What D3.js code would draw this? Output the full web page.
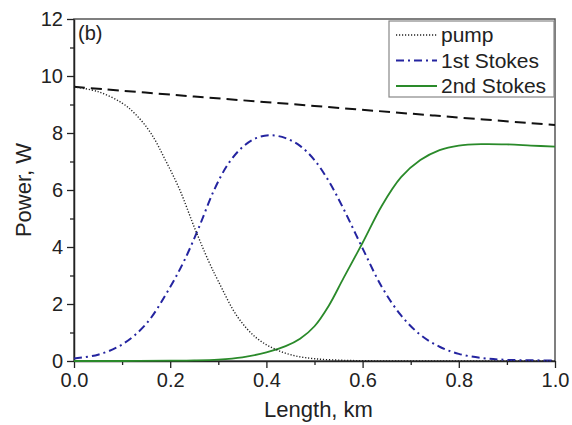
<!DOCTYPE html>
<html>
<head>
<meta charset="utf-8">
<script src="https://cdn.jsdelivr.net/npm/d3@7"></script>
<style>
  body { margin: 0; background: #fff; }
  text { font-family: Arial, "Liberation Sans", sans-serif; fill: #222; }
</style>
</head>
<body>
<div id="chart"></div>
<script>
const width = 572, height = 425;
const margin = {top: 19, right: 17, bottom: 64, left: 74};

// data
const pumpX = [0, 0.05, 0.1, 0.13, 0.16, 0.19, 0.22, 0.25, 0.28, 0.3, 0.34, 0.38, 0.42, 0.46, 0.5, 0.55, 0.6, 0.7, 1.0];
const pumpY = [9.62, 9.45, 9.05, 8.62, 7.99, 7.05, 6.0, 4.7, 3.5, 2.8, 1.55, 0.8, 0.4, 0.18, 0.08, 0.03, 0.01, 0, 0];

const stokes1X = [0, 0.05, 0.1, 0.15, 0.2, 0.23, 0.26, 0.29, 0.32, 0.35, 0.38, 0.41, 0.44, 0.47, 0.5, 0.53, 0.56, 0.6, 0.64, 0.68, 0.72, 0.76, 0.8, 0.85, 0.9, 1.0];
const stokes1Y = [0.09, 0.22, 0.58, 1.3, 2.6, 3.55, 4.7, 5.95, 6.9, 7.5, 7.83, 7.92, 7.82, 7.55, 7.05, 6.3, 5.35, 3.95, 2.6, 1.6, 0.92, 0.5, 0.25, 0.1, 0.04, 0.02];

const stokes2X = [0, 0.1, 0.2, 0.25, 0.3, 0.35, 0.4, 0.44, 0.47, 0.5, 0.53, 0.56, 0.6, 0.64, 0.68, 0.72, 0.76, 0.8, 0.85, 0.9, 0.95, 1.0];
const stokes2Y = [0, 0, 0.01, 0.02, 0.05, 0.13, 0.3, 0.52, 0.78, 1.22, 1.95, 2.9, 4.15, 5.45, 6.45, 7.05, 7.4, 7.56, 7.61, 7.6, 7.56, 7.52];

const lossX = [0, 0.25, 0.5, 0.75, 1.0];
const lossY = [9.62, 9.28, 8.95, 8.61, 8.28];

const xTicks = [0, 0.2, 0.4, 0.6, 0.8, 1.0];
const yTicks = [0, 2, 4, 6, 8, 10, 12];
const legendNames = ["pump", "1st Stokes", "2nd Stokes"];

const svg = d3.select("#chart")
  .append("svg")
  .attr("width", width)
  .attr("height", height);

const x = d3.scaleLinear().domain([0, 1]).range([margin.left, width - margin.right]);
const y = d3.scaleLinear().domain([0, 12]).range([height - margin.bottom, margin.top]);

// frame (top / right)
svg.append("rect")
  .attr("x", x(0)).attr("y", y(12))
  .attr("width", x(1) - x(0)).attr("height", y(0) - y(12))
  .attr("fill", "none").attr("stroke", "#555").attr("stroke-width", 1.5);

// minor ticks first, then axes with labels
const xMinor = d3.axisBottom(x).tickValues(d3.range(0.1, 1, 0.2)).tickSize(4).tickFormat("");
const yMinor = d3.axisLeft(y).tickValues(d3.range(1, 12, 2)).tickSize(4).tickFormat("");

svg.append("g").attr("transform", `translate(0,${y(0)})`).call(xMinor)
  .call(g => g.select(".domain").remove())
  .selectAll("line").attr("stroke", "#222").attr("stroke-width", 1.3);
svg.append("g").attr("transform", `translate(${x(0)},0)`).call(yMinor)
  .call(g => g.select(".domain").remove())
  .selectAll("line").attr("stroke", "#222").attr("stroke-width", 1.3);

const xAxis = svg.append("g")
  .attr("transform", `translate(0,${y(0)})`)
  .call(d3.axisBottom(x).tickValues(xTicks).tickSize(7).tickSizeOuter(0).tickPadding(5).tickFormat(d3.format(".1f")));
const yAxis = svg.append("g")
  .attr("transform", `translate(${x(0)},0)`)
  .call(d3.axisLeft(y).tickValues(yTicks).tickSize(7).tickSizeOuter(0).tickPadding(4));

[xAxis, yAxis].forEach(a => {
  a.select(".domain").attr("stroke", "#222").attr("stroke-width", 1.5);
  a.selectAll(".tick line").attr("stroke", "#222").attr("stroke-width", 1.3);
  a.selectAll(".tick text").attr("font-size", 20).attr("fill", "#222")
    .style("font-family", "Arial, 'Liberation Sans', sans-serif");
});

// axis titles
svg.append("text")
  .attr("x", (x(0) + x(1)) / 2 + 4).attr("y", 417)
  .attr("text-anchor", "middle").attr("font-size", 22)
  .text("Length, km");
svg.append("text")
  .attr("transform", `translate(31,${(y(0) + y(12)) / 2}) rotate(-90)`)
  .attr("text-anchor", "middle").attr("font-size", 22)
  .text("Power, W");

svg.append("text")
  .attr("x", x(0) + 4).attr("y", 40)
  .attr("font-size", 20)
  .text("(b)");

const line = d3.line()
  .x(d => x(d[0]))
  .y(d => y(d[1]))
  .curve(d3.curveCatmullRom.alpha(0.5));

const zip = (xs, ys) => xs.map((v, i) => [v, ys[i]]);

svg.append("path")
  .attr("d", line(zip(lossX, lossY)))
  .attr("fill", "none").attr("stroke", "#111").attr("stroke-width", 2)
  .attr("stroke-dasharray", "11,6");

svg.append("path")
  .attr("d", line(zip(stokes2X, stokes2Y)))
  .attr("fill", "none").attr("stroke", "#2a8a2a").attr("stroke-width", 1.8);

svg.append("path")
  .attr("d", line(zip(stokes1X, stokes1Y)))
  .attr("fill", "none").attr("stroke", "#2424a0").attr("stroke-width", 2)
  .attr("stroke-dasharray", "8,4,2,4");

svg.append("path")
  .attr("d", line(zip(pumpX, pumpY)))
  .attr("fill", "none").attr("stroke", "#222").attr("stroke-width", 1.4)
  .attr("stroke-dasharray", "1.2,1.8");

// legend
const legend = svg.append("g");
legend.append("rect")
  .attr("x", 389).attr("y", 21).attr("width", 165).attr("height", 76)
  .attr("fill", "#fff").attr("stroke", "#888").attr("stroke-width", 1.2);

const legendStyles = [
  {stroke: "#222", width: 1.4, dash: "1.2,1.8"},
  {stroke: "#2424a0", width: 2, dash: "8,4,2,4"},
  {stroke: "#2a8a2a", width: 1.8, dash: null}
];

legendNames.forEach((name, i) => {
  const cy = 35 + i * 25.5;
  legend.append("line")
    .attr("x1", 396).attr("x2", 437).attr("y1", cy).attr("y2", cy)
    .attr("stroke", legendStyles[i].stroke)
    .attr("stroke-width", legendStyles[i].width)
    .attr("stroke-dasharray", legendStyles[i].dash);
  legend.append("text")
    .attr("x", 441).attr("y", cy + 7)
    .attr("font-size", 21)
    .text(name);
});
</script>
</body>
</html>
